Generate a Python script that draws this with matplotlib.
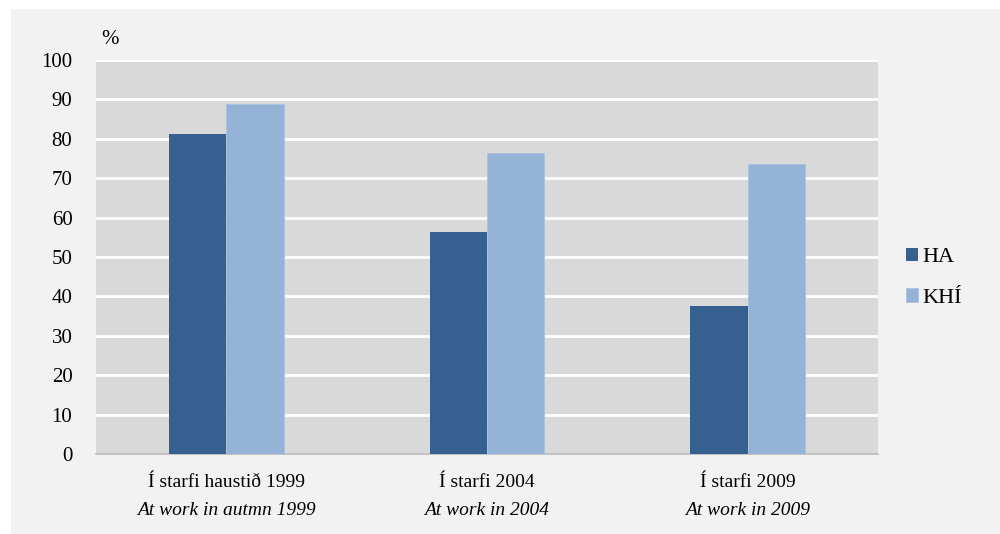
import matplotlib.pyplot as plt
import numpy as np

categories = ["Í starfi haustið 1999", "Í starfi 2004", "Í starfi 2009"]
categories_en = ["At work in autmn 1999", "At work in 2004", "At work in 2009"]
series_names = ["HA", "KHÍ"]
ha = [81.3, 56.3, 37.6]
khi = [88.8, 76.5, 73.5]
yticks = list(range(0, 101, 10))

plt.rcParams['font.family'] = ['Liberation Serif', 'DejaVu Serif']

fig = plt.figure(figsize=(10, 5.34), dpi=100)
fig.patch.set_facecolor('white')
# light grey panel behind everything
fig.patches.append(plt.Rectangle((0.011, 0.0), 0.989, 0.983, transform=fig.transFigure,
                                 facecolor='#f2f2f2', edgecolor='none', zorder=-1))

ax = fig.add_axes([0.096, 1 - 454 / 534, 0.782, 394 / 534])
ax.set_facecolor('#d9d9d9')

x = np.arange(len(categories))
w = 0.22
ax.bar(x - w / 2, ha, w, color='#36608f', label=series_names[0], zorder=3)
ax.bar(x + w / 2, khi, w, color='#95b3d7', edgecolor='#a9c1de', linewidth=0.6,
       label=series_names[1], zorder=3)

ax.set_xlim(-0.5, 2.5)
ax.set_ylim(0, 100)
ax.set_yticks(yticks)
ax.set_yticklabels([str(t) for t in yticks], fontsize=15)
ax.yaxis.grid(True, color='white', linewidth=2, zorder=1)
ax.set_axisbelow(True)
ax.tick_params(axis='y', length=0, pad=17)
ax.tick_params(axis='x', length=0)
ax.set_xticks(x)
ax.set_xticklabels([''] * len(x))
for s in ['top', 'right', 'left']:
    ax.spines[s].set_visible(False)
ax.spines['bottom'].set_color('#b8b8b8')
ax.spines['bottom'].set_linewidth(1.2)

for i in x:
    ax.text(i, -7.2, categories[i], ha='center', va='center', fontsize=14,
            transform=ax.transData, clip_on=False)
    ax.text(i, -14.3, categories_en[i], ha='center', va='center', fontsize=14,
            style='italic', transform=ax.transData, clip_on=False)

fig.text(0.11, 1 - 39 / 534, '%', fontsize=15, ha='center', va='center')

leg = ax.legend(loc='center left', bbox_to_anchor=(1.01, 0.447), frameon=False,
                fontsize=16, handlelength=0.55, handleheight=0.55, handletextpad=0.2,
                labelspacing=0.95)

fig.savefig('out.png', dpi=100, facecolor=fig.get_facecolor())
